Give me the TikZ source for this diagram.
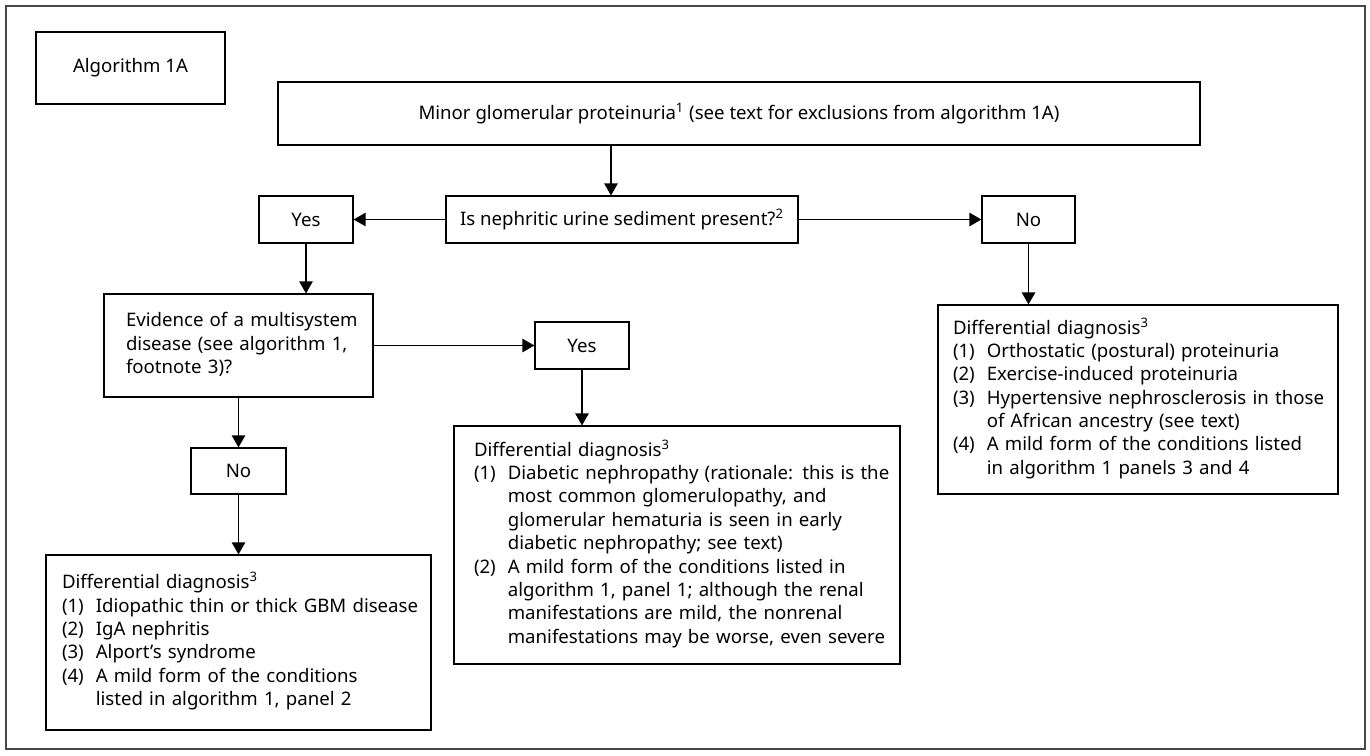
\documentclass[tikz,border=0pt]{standalone}
\usepackage{fontspec}
\setmainfont{Noto Sans}
\usetikzlibrary{arrows.meta}
\pgfmathsetlengthmacro\px{0.02cm}
\newenvironment{ddtab}{\begin{tabular}{@{}l@{\hspace{0.24cm}}l@{}}\multicolumn{2}{@{}l@{}}{Differential diagnosis\smash{\textsuperscript{3}}}\\}{\end{tabular}}
\tikzset{
  box/.style = {draw = black, line width = 0.65pt, inner sep = 0pt, font = \fontsize{10.6}{13.3}\selectfont},
  listbox/.style = {box, align = left},
  arr/.style = {-{Triangle[length = 6.8pt, width = 7.6pt]}, line width = 0.65pt},
}
\begin{document}
\begin{tikzpicture}[x = \px, y = -\px]
\useasboundingbox (0,0) rectangle (1370,755);
\draw [draw = black!72, line width = 1.1pt] (6,6) rectangle (1365,749);
\node [box, minimum width = 189*\px, minimum height = 72*\px] (alg) at (130.5,68) {Algorithm 1A};
\node [box, line width = 1.3pt, minimum width = 922*\px, minimum height = 63*\px] (minor) at (739,113.5) {Minor glomerular proteinuria\textsuperscript{1} (see text for exclusions from algorithm 1A)};
\node [box, minimum width = 352*\px, minimum height = 47*\px] (sediment) at (622,219.5) {Is nephritic urine sediment present?\textsuperscript{2}};
\node [box, minimum width = 94*\px, minimum height = 47*\px] (yesA) at (306,219.5) {Yes};
\node [box, minimum width = 93*\px, minimum height = 47*\px] (noA) at (1028.5,219.5) {No};
\node [listbox, minimum width = 269*\px, minimum height = 103*\px, text width = 225*\px, inner xsep = 22*\px] (multi) at (238.5,345.5) {\begin{tabular}{@{}l@{}}Evidence of a multisystem\\disease (see algorithm 1,\\footnote 3)?\end{tabular}};
\node [box, minimum width = 94*\px, minimum height = 47*\px] (yesB) at (582,345.5) {Yes};
\node [box, minimum width = 95*\px, minimum height = 46*\px] (noB) at (238.5,471) {No};
\node [listbox, minimum width = 385*\px, minimum height = 175*\px, text width = 353*\px, inner xsep = 16*\px] (ddNo) at (238.5,642.5) {\begin{ddtab}
(1)&Idiopathic thin or thick GBM disease\\
(2)&IgA nephritis\\
(3)&Alport's syndrome\\
(4)&A mild form of the conditions\\
&listed in algorithm 1, panel 2
\end{ddtab}};
\node [listbox, minimum width = 446*\px, minimum height = 238*\px, text width = 406*\px, inner xsep = 20*\px] (ddYes) at (677,545) {\begin{ddtab}
(1)&Diabetic nephropathy (rationale: this is the\\
&most common glomerulopathy, and\\
&glomerular hematuria is seen in early\\
&diabetic nephropathy; see text)\\
(2)&A mild form of the conditions listed in\\
&algorithm 1, panel 1; although the renal\\
&manifestations are mild, the nonrenal\\
&manifestations may be worse, even severe
\end{ddtab}};
\node [listbox, minimum width = 400*\px, minimum height = 189*\px, text width = 370*\px, inner xsep = 15*\px] (ddRight) at (1138,399.5) {\begin{ddtab}
(1)&Orthostatic (postural) proteinuria\\
(2)&Exercise-induced proteinuria\\
(3)&Hypertensive nephrosclerosis in those\\
&of African ancestry (see text)\\
(4)&A mild form of the conditions listed\\
&in algorithm 1 panels 3 and 4
\end{ddtab}};
\draw [arr] ([xshift = -11*\px]sediment.north |- minor.south) -- ([xshift = -11*\px]sediment.north);
\foreach \a/\b in {sediment.west/yesA.east, sediment.east/noA.west, multi.east/yesB.west, multi.south/noB.north, noB.south/ddNo.north} \draw [arr] (\a) -- (\b);
\draw [arr] (yesA.south) -- (yesA.south |- multi.north);
\draw [arr] (yesB.south) -- (yesB.south |- ddYes.north);
\draw [arr] (noA.south) -- (noA.south |- ddRight.north);
\end{tikzpicture}
\end{document}
